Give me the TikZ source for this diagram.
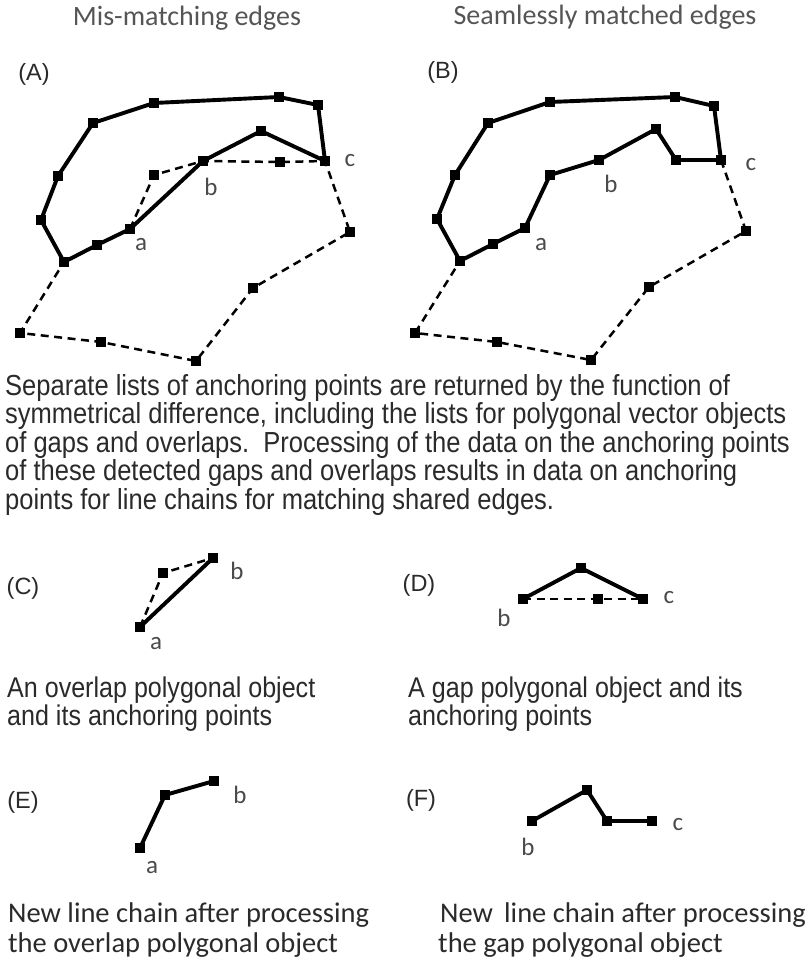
\documentclass[tikz,border=0pt]{standalone}
\usepackage{fontspec}
\setmainfont{Liberation Sans}
\newfontfamily\arialn[FakeStretch=0.88]{Liberation Sans}
\newfontfamily\calib{Carlito}
\pgfdeclarelayer{bg}
\pgfsetlayers{bg,main}
\definecolor{txt}{HTML}{2A2A2A}
\definecolor{labgray}{HTML}{4A4A4A}
\definecolor{titlegray}{HTML}{555555}
\tikzset{
  pt/.style={rectangle, fill=black, inner sep=0pt, minimum size=10pt},
  chain/.style={line width=3.9pt, line join=miter, line cap=butt},
  gapline/.style={line width=2.5pt, dash pattern=on 8pt off 5.5pt},
  lbl/.style={font=\calib\fontsize{25}{25}\selectfont, text=labgray, inner sep=0pt, anchor=base},
  panel/.style={font=\fontsize{23.5}{23.5}\selectfont, text=txt, inner sep=0pt},
  title/.style={font=\calib\fontsize{28}{28}\selectfont, text=titlegray, inner sep=0pt, anchor=base},
  para/.style={font=\arialn\fontsize{29}{29}\selectfont, text=txt, inner sep=0pt, anchor=base west},
  capt/.style={font=\arialn\fontsize{28.5}{28.5}\selectfont, text=txt, inner sep=0pt, anchor=base west},
  capn/.style={font=\calib\fontsize{28.5}{28.5}\selectfont, text=txt, inner sep=0pt, anchor=base west},
}
\begin{document}
\begin{tikzpicture}[x=1pt,y=-1pt]
\begin{pgfonlayer}{bg}
\fill[white] (0,0) rectangle (804,963);
\end{pgfonlayer}
\useasboundingbox (0,0) rectangle (804,963);

% titles
\node[title] (t1) at (187,26) {Mis-matching edges};
\node[title] (t2) at (605,25) {Seamlessly matched edges};
\node[panel] (pA) at (34,74) {(A)};
\node[panel] (pB) at (443,72) {(B)};

% ---------- Panel A ----------
\node[pt] (A0) at (64,262) {};
\node[pt] (A1) at (41,220) {};
\node[pt] (A2) at (58,176) {};
\node[pt] (A3) at (93,123) {};
\node[pt] (A4) at (154,103) {};
\node[pt] (A5) at (279,97) {};
\node[pt] (A6) at (318,105) {};
\node[pt] (Ac) at (325,161) {};
\node[pt] (A7) at (261,131) {};
\node[pt] (Ab) at (203,161) {};
\node[pt] (Aa) at (130,229) {};
\node[pt] (A8) at (97,245) {};
\node[pt] (D1) at (154,175) {};
\node[pt] (D2) at (280,162) {};
\node[pt] (D3) at (350,232) {};
\node[pt] (D4) at (253,288) {};
\node[pt] (D5) at (196,361) {};
\node[pt] (D6) at (101,342) {};
\node[pt] (D7) at (20,333) {};
\node[lbl] (la) at (141,250) {a};
\node[lbl] (lb) at (211,195) {b};
\node[lbl] (lc) at (350,166) {c};
\begin{pgfonlayer}{bg}
\draw[gapline] (Aa.center) -- (D1.center) -- (Ab.center) -- (D2.center) -- (Ac.center) -- (D3.center) -- (D4.center) -- (D5.center) -- (D6.center) -- (D7.center) -- (A0.center);
\draw[chain] (A0.center) -- (A1.center) -- (A2.center) -- (A3.center) -- (A4.center) -- (A5.center) -- (A6.center) -- (Ac.center) -- (A7.center) -- (Ab.center) -- (Aa.center) -- (A8.center) -- cycle;
\end{pgfonlayer}

% ---------- Panel B ----------
\node[pt] (B0) at (460,261) {};
\node[pt] (B1) at (437,219) {};
\node[pt] (B2) at (455,175) {};
\node[pt] (B3) at (488,123) {};
\node[pt] (B4) at (550,102) {};
\node[pt] (B5) at (675,97) {};
\node[pt] (B6) at (714,106) {};
\node[pt] (Bc) at (721,160) {};
\node[pt] (B7) at (676,160) {};
\node[pt] (B8) at (656,129) {};
\node[pt] (Bb) at (599,160) {};
\node[pt] (B9) at (550,175) {};
\node[pt] (Ba) at (525,228) {};
\node[pt] (B10) at (493,244) {};
\node[pt] (E1) at (746,231) {};
\node[pt] (E2) at (649,287) {};
\node[pt] (E3) at (591,360) {};
\node[pt] (E4) at (497,342) {};
\node[pt] (E5) at (415,333) {};
\node[lbl] (lba) at (541,250) {a};
\node[lbl] (lbb) at (611,192) {b};
\node[lbl] (lbc) at (751,170) {c};
\begin{pgfonlayer}{bg}
\draw[gapline] (Bc.center) -- (E1.center) -- (E2.center) -- (E3.center) -- (E4.center) -- (E5.center) -- (B0.center);
\draw[chain] (B0.center) -- (B1.center) -- (B2.center) -- (B3.center) -- (B4.center) -- (B5.center) -- (B6.center) -- (Bc.center) -- (B7.center) -- (B8.center) -- (Bb.center) -- (B9.center) -- (Ba.center) -- (B10.center) -- cycle;
\end{pgfonlayer}

% ---------- paragraph ----------
\node[para] (l1) at (5,395) {Separate lists of anchoring points are returned by the function of};
\node[para] (l2) at (5,423.5) {symmetrical difference, including the lists for polygonal vector objects};
\node[para] (l3) at (5,452) {of gaps and overlaps.\ \ Processing of the data on the anchoring points};
\node[para] (l4) at (5,480.5) {of these detected gaps and overlaps results in data on anchoring};
\node[para] (l5) at (5,509) {points for line chains for matching shared edges.};

% ---------- Panel C ----------
\node[panel] (pC) at (23,588) {(C)};
\node[pt] (Ca) at (140,627) {};
\node[pt] (Cm) at (163,573) {};
\node[pt] (Cb) at (213,558) {};
\node[lbl] (lCa) at (156,649) {a};
\node[lbl] (lCb) at (237,579) {b};
\begin{pgfonlayer}{bg}
\draw[gapline] (Ca.center) -- (Cm.center) -- (Cb.center);
\draw[chain] (Ca.center) -- (Cb.center);
\end{pgfonlayer}
\node[capt] (cC1) at (7,697) {An overlap polygonal object};
\node[capt] (cC2) at (7,725) {and its anchoring points};

% ---------- Panel D ----------
\node[panel] (pD) at (419,585) {(D)};
\node[pt] (Db) at (523,599) {};
\node[pt] (Dt) at (581,568) {};
\node[pt] (Dm) at (598,599) {};
\node[pt] (Dc) at (643,599) {};
\node[lbl] (lDb) at (504,626) {b};
\node[lbl] (lDc) at (669,603) {c};
\begin{pgfonlayer}{bg}
\draw[gapline] (Db.center) -- (Dm.center) -- (Dc.center);
\draw[chain] (Db.center) -- (Dt.center) -- (Dc.center);
\end{pgfonlayer}
\node[capt] (cD1) at (408,697) {A gap polygonal object and its};
\node[capt] (cD2) at (408,725) {anchoring points};

% ---------- Panel E ----------
\node[panel] (pE) at (23,802) {(E)};
\node[pt] (Ea) at (140,848) {};
\node[pt] (Em) at (165,795) {};
\node[pt] (Eb) at (214,781) {};
\node[lbl] (lEa) at (152,873) {a};
\node[lbl] (lEb) at (240,803) {b};
\begin{pgfonlayer}{bg}
\draw[chain] (Ea.center) -- (Em.center) -- (Eb.center);
\end{pgfonlayer}
\node[capn] (cE1) at (8,922) {New line chain after processing};
\node[capn] (cE2) at (8,952) {the overlap polygonal object};

% ---------- Panel F ----------
\node[panel] (pF) at (421,800) {(F)};
\node[pt] (Fb) at (532,821) {};
\node[pt] (Ft) at (587,790) {};
\node[pt] (Fm) at (607,821) {};
\node[pt] (Fc) at (652,821) {};
\node[lbl] (lFb) at (528,855) {b};
\node[lbl] (lFc) at (678,830) {c};
\begin{pgfonlayer}{bg}
\draw[chain] (Fb.center) -- (Ft.center) -- (Fm.center) -- (Fc.center);
\end{pgfonlayer}
\node[capn] (cF1) at (440,922) {New\ \,line chain after processing};
\node[capn] (cF2) at (438,952) {the gap polygonal object};
\end{tikzpicture}
\end{document}
